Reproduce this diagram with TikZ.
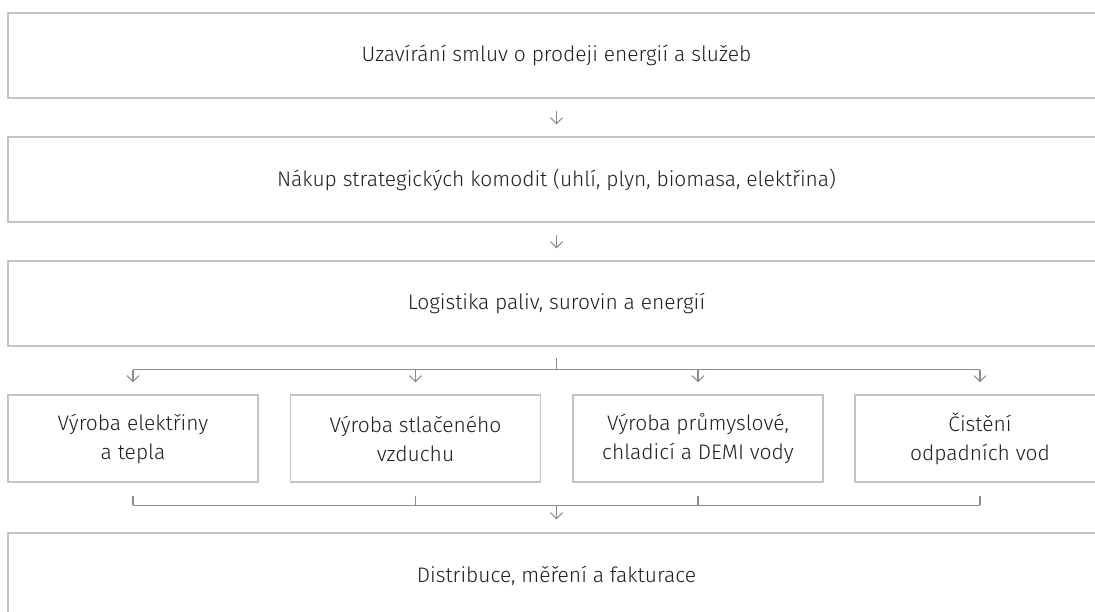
\documentclass[tikz,border=0pt]{standalone}
\usepackage{fontspec}
\setmainfont{Fira Sans}[UprightFont={* Light}]
\usepackage{xcolor}
\usetikzlibrary{arrows.meta}

\definecolor{boxgray}{HTML}{C4C4C4}
\definecolor{linegray}{HTML}{8C8C8C}
\definecolor{txtgray}{HTML}{1E1E1E}

\tikzset{
  stage/.style={draw=boxgray, line width=1.2pt, text=txtgray, inner sep=0pt,
    font=\fontsize{21}{29}\selectfont},
  bigstage/.style={stage, minimum width=1097pt, minimum height=85pt},
  smallstage/.style={stage, minimum width=250pt, minimum height=87pt, align=center},
  link/.style={draw=linegray, line width=1.5pt},
  flow/.style={link, -{Straight Barb[length=6pt,width=12pt,line width=1.1pt]}},
}

\begin{document}
\begin{tikzpicture}[x=1pt, y=-1pt]
    \useasboundingbox (0,0) rectangle (1095,611);
    % main chain
    \node[bigstage] (contracts) at (556.5,55.5) {Uzavírání smluv o prodeji energií a služeb};
    \node[bigstage] (purchase) at (556.5,179.5) {Nákup strategických komodit (uhlí, plyn, biomasa, elektřina)};
    \node[bigstage] (logistics) at (556.5,303.5) {Logistika paliv, surovin a energií};
    % production
    \node[smallstage] (power) at (133,438.5) {Výroba elektřiny\\a tepla};
    \node[smallstage] (air) at (415.5,438.5) {Výroba stlačeného\\vzduchu};
    \node[smallstage] (water) at (698,438.5) {Výroba průmyslové,\\chladicí a DEMI vody};
    \node[smallstage] (waste) at (980,438.5) {Čistění\\odpadních vod};
    \node[bigstage] (billing) at (556.5,575.5) {Distribuce, měření a fakturace};

    \draw[flow] ([yshift=-12pt]contracts.south) -- ([yshift=12pt]purchase.north);
    \draw[flow] ([yshift=-12pt]purchase.south) -- ([yshift=12pt]logistics.north);

    % split
    \coordinate (split) at ([yshift=-23pt]logistics.south);
    \draw[link] ([yshift=-11pt]logistics.south) -- (split);
    \draw[link] (split -| power.north) -- (split -| waste.north);
    \foreach \n in {power,air,water,waste}
        \draw[flow] (split -| \n.north) -- ([yshift=12pt]\n.north);

    % join
    \coordinate (join) at ([yshift=27pt]billing.north);
    \foreach \n in {power,air,water,waste}
        \draw[link] ([yshift=-13pt]\n.south) -- (join -| \n.south);
    \draw[link] (join -| power.south) -- (join -| waste.south);
    \draw[flow] (join) -- ([yshift=13pt]billing.north);
\end{tikzpicture}
\end{document}
